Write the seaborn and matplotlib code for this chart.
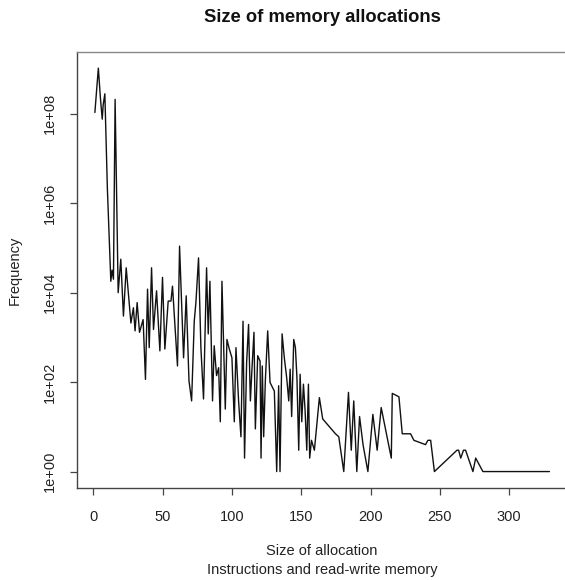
import matplotlib
matplotlib.use("Agg")
import matplotlib.pyplot as plt
import seaborn as sns
import numpy as np
import pandas as pd

# ---- data ----
alloc_size = [1, 3.5, 5, 6.3, 7, 8.2, 10, 12.5, 13.4, 14.4, 15.6, 17.8, 19.7, 21.6, 23.6, 25,
              27, 28.8, 30, 31.5, 33.2, 34.9, 35.8, 37.5, 39, 40.2, 41.9, 43.3, 45.5, 47.9,
              49.8, 51.5, 53.9, 55.9, 57, 59, 60.6, 62.1, 65, 66.9, 68.9, 70.8, 72.7, 73.9,
              75.8, 77.5, 79.4, 81.6, 82.8, 84, 85.9, 87.1, 88.8, 90.3, 91.5, 92.7, 95.1,
              96.3, 98, 99.9, 101.6, 102.8, 104.7, 106.4, 107.9, 109, 110.5, 111.9, 113.2,
              114.4, 115.8, 116.8, 118.5, 120.2, 120.9, 121.8, 122.8, 124, 125.7, 127.4,
              130.5, 132.2, 133.6, 134.6, 136.1, 137.7, 139.4, 140.9, 141.9, 143, 144.5,
              145.7, 146.8, 148.1, 149.1, 150.3, 151.5, 152.7, 153.9, 155.1, 156, 157.3,
              159.4, 163, 165.4, 174.6, 177, 180.6, 184, 186, 187.8, 190, 192, 194.5, 198,
              201.6, 204.7, 207.6, 214.9, 215.6, 220.4, 222.8, 228.8, 231.2, 239.6, 241.3,
              243.3, 246, 262.3, 263.5, 265, 267, 268.5, 273.8, 275.8, 281, 329]
frequency = [1.07e8, 1.05e9, 2.24e8, 7.6e7, 1.6e8, 2.8e8, 2.2e6, 18000, 32000, 20000, 2.1e8,
             10000, 56000, 3000, 36000, 11000, 2100, 4600, 1400, 6000, 1300, 2000, 2500, 115,
             12000, 590, 36000, 1500, 11000, 500, 22000, 550, 6500, 6500, 14000, 1500, 230,
             110000, 350, 8500, 107, 38, 2300, 6000, 60000, 590, 42, 36000, 1200, 18000, 38,
             650, 140, 210, 13, 18000, 25, 900, 550, 350, 13, 590, 38, 6, 2300, 2, 275, 1950,
             38, 210, 1300, 9, 390, 295, 2, 230, 6, 107, 1400, 98, 63, 1, 83, 1, 1200, 350,
             126, 38, 195, 17, 900, 590, 126, 3, 150, 13, 90, 23, 3, 90, 2, 5, 3, 45, 15, 7,
             6, 1, 59, 3, 38, 1, 17, 4, 1, 19, 3, 27, 2, 56, 47, 7, 7, 5, 4, 5, 5, 1, 3, 3,
             2, 3, 3, 1, 2, 1, 1]

x_ticks = [0, 50, 100, 150, 200, 250, 300]
y_ticks = [1, 1e2, 1e4, 1e6, 1e8]
y_tick_labels = ["1e+00", "1e+02", "1e+04", "1e+06", "1e+08"]

title = "Size of memory allocations"
x_label_1 = "Size of allocation"
x_label_2 = "Instructions and read-write memory"
y_label = "Frequency"

df = pd.DataFrame({"size": alloc_size, "freq": frequency})

sns.set_style("white")
plt.rcParams["font.family"] = ["Liberation Sans", "DejaVu Sans"]

W, H = 565, 580
fig = plt.figure(figsize=(W / 100, H / 100), dpi=100)
ax_left, ax_right, ax_top, ax_bottom = 76.7, 567.6, 52.0, 487.7
ax = fig.add_axes([ax_left / W, 1 - ax_bottom / H, (ax_right - ax_left) / W, (ax_bottom - ax_top) / H])

sns.lineplot(data=df, x="size", y="freq", estimator=None, sort=False,
             color="#111111", linewidth=1.0, ax=ax)
ax.set_yscale("log")

xr = max(alloc_size) - min(alloc_size)
ax.set_xlim(min(alloc_size) - 0.04 * xr, max(alloc_size) + 0.04 * xr)
lo, hi = np.log10(min(frequency)), np.log10(max(frequency))
lr = hi - lo
ax.set_ylim(10 ** (lo - 0.04 * lr), 10 ** (hi + 0.04 * lr))

ax.set_xticks(x_ticks)
ax.set_xticklabels([str(t) for t in x_ticks])
ax.set_yticks(y_ticks)
ax.set_yticklabels(y_tick_labels, rotation=90, va="center")
ax.minorticks_off()
ax.tick_params(axis="x", direction="out", length=5, width=0.9, color="#444444",
               labelsize=10.5, pad=11, labelcolor="#222222")
ax.tick_params(axis="y", direction="out", length=5, width=0.9, color="#444444",
               labelsize=10.5, pad=9, labelcolor="#222222")
ax.tick_params(bottom=True, left=True)

for side in ["left", "bottom"]:
    ax.spines[side].set_color("#444444")
    ax.spines[side].set_linewidth(1.0)
for side in ["top", "right"]:
    ax.spines[side].set_color("#888888")
    ax.spines[side].set_linewidth(1.0)

ax.set_xlabel("")
ax.set_ylabel("")

cx = (ax_left + ax_right) / 2 / W
fig.text(cx, 1 - 17 / H, title, ha="center", va="center", fontsize=13.2, fontweight="bold", color="#111111")
fig.text(cx, 1 - 551 / H, x_label_1, ha="center", va="center", fontsize=10.5, color="#222222")
fig.text(cx, 1 - 570 / H, x_label_2, ha="center", va="center", fontsize=10.5, color="#222222")
fig.text(15 / W, 1 - ((ax_top + ax_bottom) / 2) / H, y_label, ha="center", va="center",
         rotation=90, fontsize=10.5, color="#222222")

fig.savefig("out.png", dpi=100)
